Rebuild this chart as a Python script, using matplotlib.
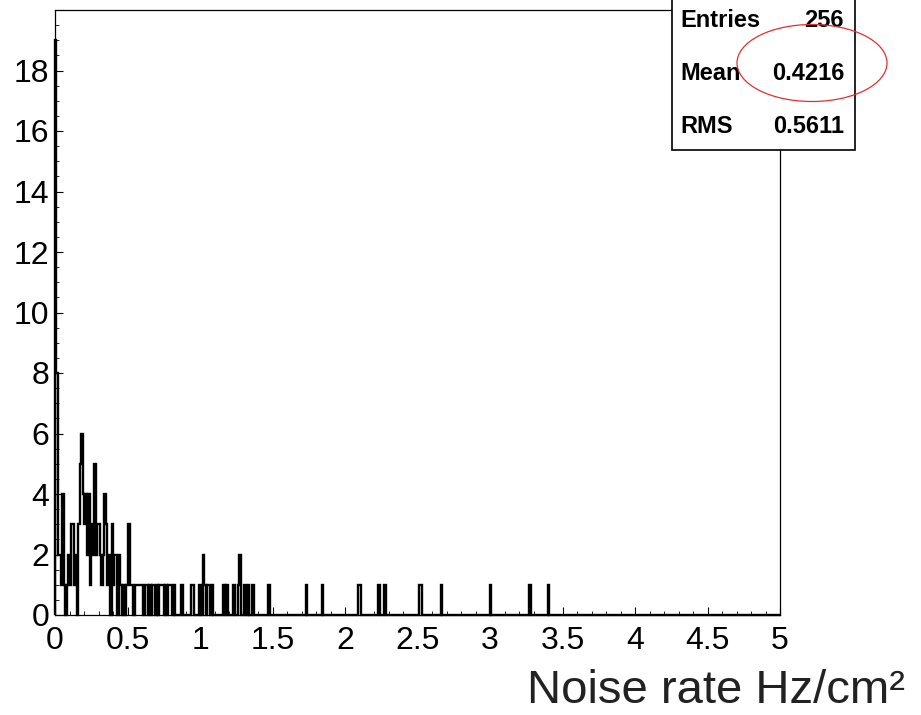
import numpy as np
from matplotlib import pyplot as plt
from matplotlib.patches import Rectangle, Ellipse
from matplotlib.ticker import MultipleLocator

#====== data ======
bin_width = 0.01
n_bins = 500
# counts of the first 60 bins (0.00 .. 0.59)
low_counts = [19, 8, 2, 2, 1, 4, 1, 0, 1, 2,
              1, 3, 3, 1, 2, 0, 3, 5, 6, 4,
              3, 4, 2, 4, 1, 3, 2, 5, 2, 3,
              3, 2, 1, 2, 4, 3, 1, 2, 0, 3,
              1, 2, 2, 0, 2, 1, 0, 1, 0, 1,
              3, 3, 1, 1, 0, 1, 1, 2, 1, 0]
# sparse tail above 0.6
tail_rates = [0.57, 0.59, 0.60, 0.62, 0.63, 0.65, 0.67, 0.68, 0.70, 0.72,
              0.73, 0.74, 0.76, 0.78, 0.79, 0.80, 0.82, 0.87, 0.94, 0.95,
              0.99, 1.00, 1.02, 1.03, 1.05, 1.06, 1.08, 1.16, 1.18, 1.23,
              1.26, 1.27, 1.30, 1.31, 1.33, 1.36, 1.47, 1.73, 1.84, 2.09,
              2.10, 2.23, 2.27, 2.51, 2.52, 2.66, 3.00, 3.27, 3.40]
tail_counts = [1, 1, 1, 1, 1, 1, 1, 1, 1, 1,
               1, 1, 1, 1, 1, 1, 1, 1, 1, 1,
               1, 1, 2, 1, 1, 1, 1, 1, 1, 1,
               1, 2, 1, 1, 1, 1, 1, 1, 1, 1,
               1, 1, 1, 1, 1, 1, 1, 1, 1]
x_ticks = [0, 0.5, 1, 1.5, 2, 2.5, 3, 3.5, 4, 4.5, 5]
x_ticklabels = ['0', '0.5', '1', '1.5', '2', '2.5', '3', '3.5', '4', '4.5', '5']
y_ticks = [0, 2, 4, 6, 8, 10, 12, 14, 16, 18]
stats_names = ['Entries', 'Mean', 'RMS']
stats_values = ['256', '0.4216', '0.5611']
x_label = 'Noise rate Hz/cm²'
#=======================================

W, H = 921, 715
def fx(px): return px / W
def fy(py): return 1 - py / H

plain = ['Liberation Sans', 'DejaVu Sans']

counts = np.zeros(n_bins)
counts[:len(low_counts)] = low_counts
for r, c in zip(tail_rates, tail_counts):
    counts[int(round(r / bin_width))] = c
edges = np.arange(n_bins + 1) * bin_width

fig = plt.figure(figsize=(W / 100, H / 100), dpi=100)
ax = fig.add_axes([fx(55), fy(615), fx(780) - fx(55), fy(10) - fy(615)])

ax.stairs(counts, edges, baseline=0, color='black', lw=1.7, clip_on=False)

ax.set_xlim(0, 5)
ax.set_ylim(0, 20)
ax.set_xticks(x_ticks)
ax.set_xticklabels(x_ticklabels)
ax.xaxis.set_minor_locator(MultipleLocator(0.1))
ax.set_yticks(y_ticks)
ax.set_yticklabels([str(v) for v in y_ticks])
ax.yaxis.set_minor_locator(MultipleLocator(0.5))
ax.tick_params(which='both', direction='in', top=False, right=False, colors='black')
ax.tick_params(which='major', length=6, width=0.8, labelsize=23)
ax.tick_params(axis='y', which='major', pad=4)
ax.tick_params(axis='x', which='major', pad=8)
ax.tick_params(which='minor', length=3, width=0.6)
for lab in ax.get_xticklabels() + ax.get_yticklabels():
    lab.set_family(plain)
for sp in ax.spines.values():
    sp.set_linewidth(0.9)

# stats box over the top-right corner
fig.add_artist(Rectangle((fx(672), fy(150)), fx(855) - fx(672), fy(-5) - fy(150),
                         transform=fig.transFigure, fc='white', ec='black', lw=1.2, zorder=3))
for i, (n, v) in enumerate(zip(stats_names, stats_values)):
    base = 27 + 53 * i
    fig.text(fx(680), fy(base), n, ha='left', va='baseline', fontsize=17,
             fontweight='bold', family=plain, zorder=4)
    fig.text(fx(844), fy(base), v, ha='right', va='baseline', fontsize=17,
             fontweight='bold', family=plain, zorder=4)

fig.add_artist(Ellipse((fx(812), fy(63)), fx(150), 77 / H, transform=fig.transFigure,
                       fill=False, ec='#e03030', lw=0.9, zorder=5))

fig.text(fx(905), fy(691), x_label, ha='right', va='center', fontsize=34,
         family=plain, color='#222222')

fig.savefig('out.png', dpi=100)
